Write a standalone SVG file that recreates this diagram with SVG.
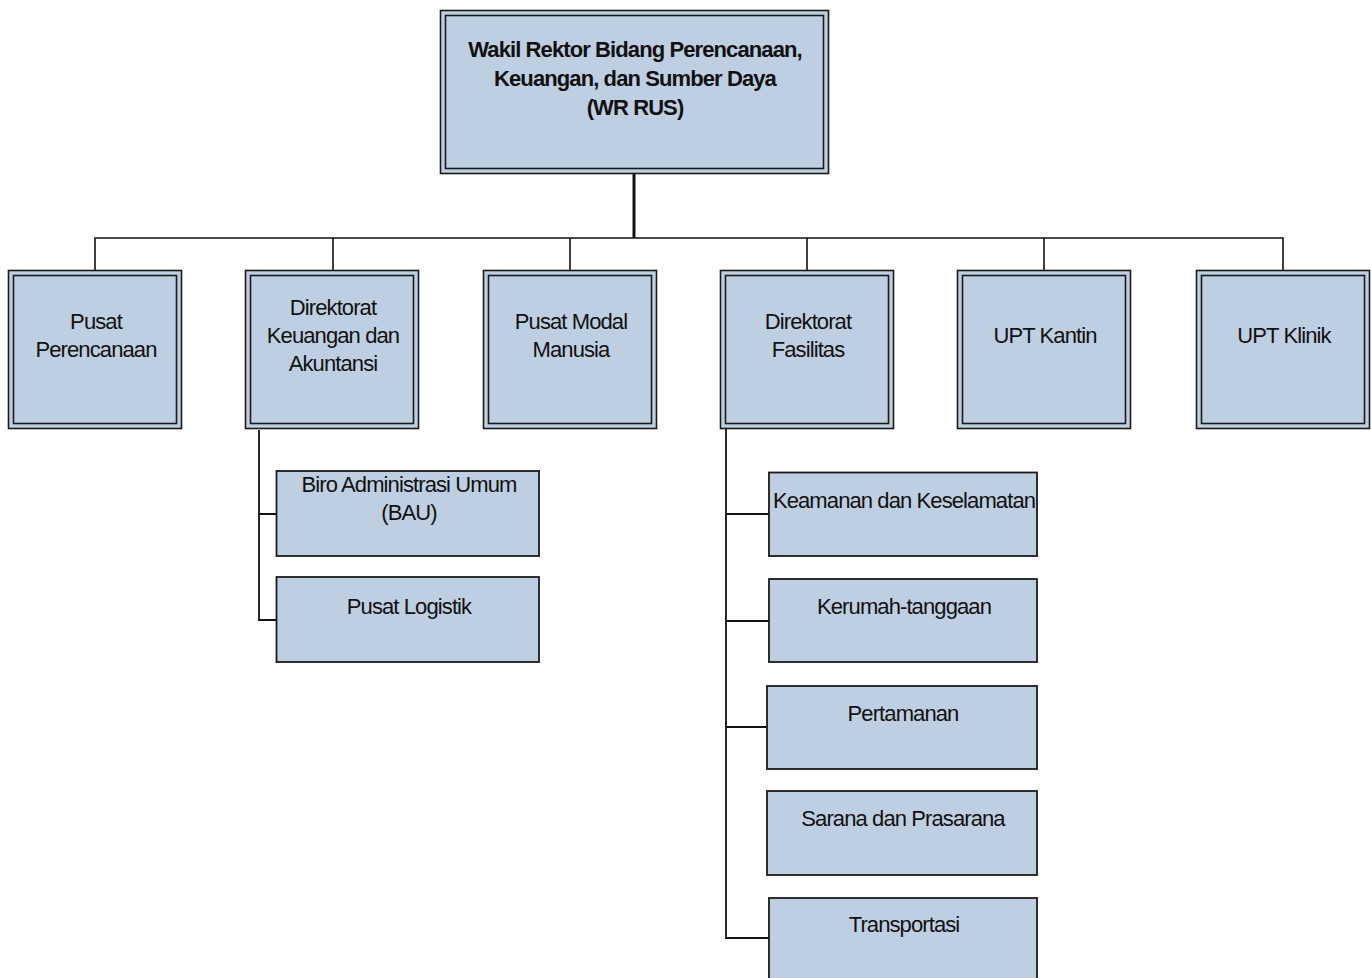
<svg xmlns="http://www.w3.org/2000/svg" width="1371" height="978" viewBox="0 0 1371 978">
<style>
.o{fill:#bfcfe2;stroke:#1a1a1a;stroke-width:1.6}
.i{fill:#bfcfe2;stroke:#1a1a1a;stroke-width:1.6}
.s{fill:#bfcfe2;stroke:#1a1a1a;stroke-width:1.8}
.t{font-family:"Liberation Sans",Arial,sans-serif;font-size:22px;letter-spacing:-0.9px;fill:#111;text-anchor:middle}
.b{font-weight:bold}
.c{fill:none;stroke:#111;stroke-width:1.6}
</style>
<rect width="1371" height="978" fill="#fff"/>
<g id="connectors">
<path class="c" d="M634 174V238" style="stroke-width:3"/>
<path class="c" d="M634 238H95V270M634 238H333V270M634 238H570V270M634 238H807V270M634 238H1044V270M634 238H1283V270"/>
<path class="c" d="M259 430V620H276M259 514H276" style="stroke-width:1.8"/>
<path class="c" d="M726 429V938H769M726 514H769M726 621H769M726 727H767" style="stroke-width:1.8"/>
</g>
<g id="wr-rus">
<rect class="o" x="440.5" y="10.5" width="388" height="163"/>
<rect class="i" x="445.5" y="15.5" width="378" height="153"/>
<text class="t b" x="635" y="57">Wakil Rektor Bidang Perencanaan,</text>
<text class="t b" x="635" y="86">Keuangan, dan Sumber Daya</text>
<text class="t b" x="635" y="115">(WR RUS)</text>
</g>
<g id="pusat-perencanaan">
<rect class="o" x="8.5" y="270.5" width="173" height="158"/>
<rect class="i" x="13.5" y="275.5" width="163" height="148"/>
<text class="t" x="96" y="329">Pusat</text>
<text class="t" x="96" y="357">Perencanaan</text>
</g>
<g id="direktorat-keuangan">
<rect class="o" x="245.5" y="270.5" width="173" height="158"/>
<rect class="i" x="250.5" y="275.5" width="163" height="148"/>
<text class="t" x="333" y="315">Direktorat</text>
<text class="t" x="333" y="343">Keuangan dan</text>
<text class="t" x="333" y="371">Akuntansi</text>
</g>
<g id="pusat-modal-manusia">
<rect class="o" x="483.5" y="270.5" width="173" height="158"/>
<rect class="i" x="488.5" y="275.5" width="163" height="148"/>
<text class="t" x="571" y="329">Pusat Modal</text>
<text class="t" x="571" y="357">Manusia</text>
</g>
<g id="direktorat-fasilitas">
<rect class="o" x="720.5" y="270.5" width="173" height="158"/>
<rect class="i" x="725.5" y="275.5" width="163" height="148"/>
<text class="t" x="808" y="329">Direktorat</text>
<text class="t" x="808" y="357">Fasilitas</text>
</g>
<g id="upt-kantin">
<rect class="o" x="957.5" y="270.5" width="173" height="158"/>
<rect class="i" x="962.5" y="275.5" width="163" height="148"/>
<text class="t" x="1045" y="343">UPT Kantin</text>
</g>
<g id="upt-klinik">
<rect class="o" x="1196.5" y="270.5" width="173" height="158"/>
<rect class="i" x="1201.5" y="275.5" width="163" height="148"/>
<text class="t" x="1284" y="343">UPT Klinik</text>
</g>
<g id="biro-administrasi-umum">
<rect class="s" x="276.5" y="471" width="262.5" height="85"/>
<text class="t" x="409" y="492">Biro Administrasi Umum</text>
<text class="t" x="409" y="520">(BAU)</text>
</g>
<g id="pusat-logistik">
<rect class="s" x="276.5" y="577" width="262.5" height="85"/>
<text class="t" x="409" y="614">Pusat Logistik</text>
</g>
<g id="keamanan">
<rect class="s" x="769" y="472.5" width="268" height="83.5"/>
<text class="t" x="904" y="508">Keamanan dan Keselamatan</text>
</g>
<g id="kerumah-tanggaan">
<rect class="s" x="769" y="579" width="268" height="83"/>
<text class="t" x="904" y="614">Kerumah-tanggaan</text>
</g>
<g id="pertamanan">
<rect class="s" x="767" y="686" width="270" height="83"/>
<text class="t" x="903" y="721">Pertamanan</text>
</g>
<g id="sarana-prasarana">
<rect class="s" x="767" y="791" width="270" height="84"/>
<text class="t" x="903" y="826">Sarana dan Prasarana</text>
</g>
<g id="transportasi">
<rect class="s" x="769" y="898" width="268" height="90"/>
<text class="t" x="904" y="932">Transportasi</text>
</g>
</svg>
